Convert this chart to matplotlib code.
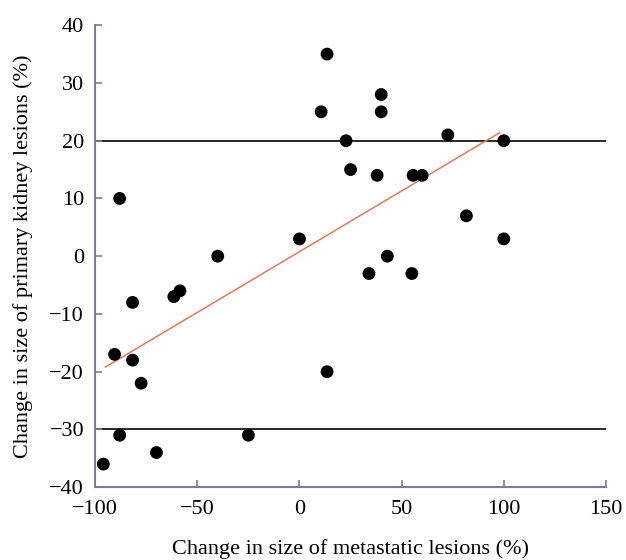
import matplotlib
matplotlib.use("Agg")
import matplotlib.pyplot as plt
import numpy as np

metastatic_change = [13.5, 10.6, 40, 40, 22.8, 25, 38, 55.6, 60, 72.6, 100, 81.7, 100, 43, 34, 55,
                     0, -40, -88, -61.5, -58.5, -81.7, -90.5, -81.7, -77.5, 13.5, -88, -25, -70, -96]
primary_change = [35, 25, 28, 25, 20, 15, 14, 14, 14, 21, 20, 7, 3, 0, -3, -3,
                  3, 0, 10, -7, -6, -8, -17, -18, -22, -20, -31, -31, -34, -36]
trend_x = [-95, 98]
trend_y = [-19.2, 21.4]
ref_lines = [20, -30]
x_ticks = [-100, -50, 0, 50, 100, 150]
y_ticks = [-40, -30, -20, -10, 0, 10, 20, 30, 40]

plt.rcParams['font.family'] = ['Liberation Serif', 'DejaVu Serif']

fig = plt.figure(figsize=(6.26, 5.6), dpi=100)
ax = fig.add_axes([0.152, 0.130, 0.816, 0.825])

spine_col = '#7c7c9a'
for y in ref_lines:
    ax.axhline(y, color='#2a2a2a', lw=1.4, zorder=1)
ax.plot(trend_x, trend_y, color='#e07a5f', lw=1.1, zorder=2)
ax.scatter(metastatic_change, primary_change, s=85, color='black', zorder=3, edgecolors='none')

ax.set_xlim(-100, 150)
ax.set_ylim(-40, 40)
ax.set_xticks(x_ticks)
ax.set_yticks(y_ticks)
ax.set_xticklabels([str(t).replace('-', '\u2212') for t in x_ticks])
ax.set_yticklabels([str(t).replace('-', '\u2212') for t in y_ticks])
ax.tick_params(direction='in', length=5, color=spine_col, width=1.2, labelsize=16)
ax.tick_params(axis='x', pad=9)
ax.tick_params(axis='y', pad=8)

for s in ['top', 'right']:
    ax.spines[s].set_visible(False)
for s in ['left', 'bottom']:
    ax.spines[s].set_color(spine_col)
    ax.spines[s].set_linewidth(1.5)

ax.set_xlabel('Change in size of metastatic lesions (%)', fontsize=16, labelpad=15)
ax.set_ylabel('Change in size of primary kidney lesions (%)', fontsize=16, labelpad=12)

fig.savefig('out.png', dpi=100)
